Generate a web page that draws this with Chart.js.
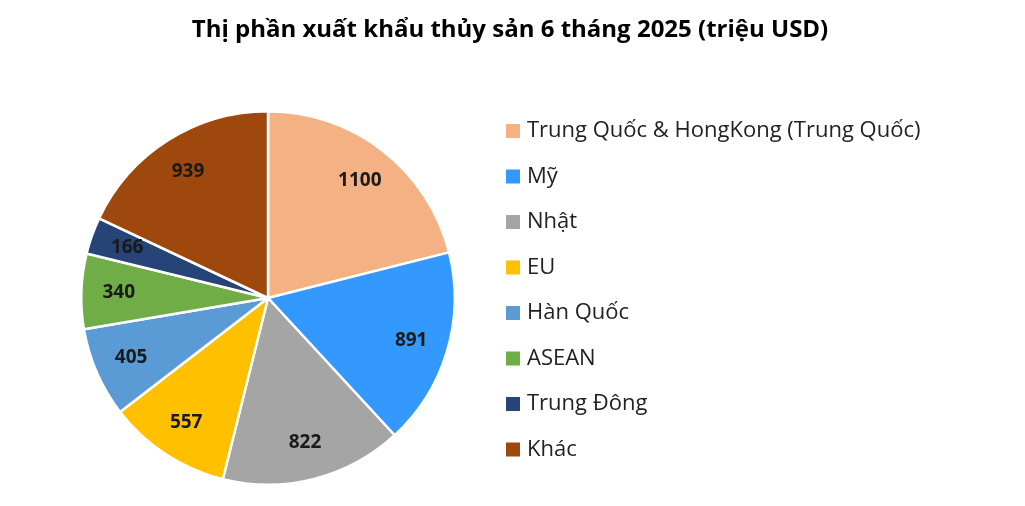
<!DOCTYPE html>
<html>
<head>
<meta charset="utf-8">
<script src="https://cdn.jsdelivr.net/npm/chart.js@4"></script>
<style>
  body { margin: 0; background: #fff; }
  #wrap { width: 1025px; height: 506px; position: relative; }
</style>
</head>
<body>
<div id="wrap"><canvas id="pie"></canvas></div>
<script>
const title = "Thị phần xuất khẩu thủy sản 6 tháng 2025 (triệu USD)";
const markets = ["Trung Quốc & HongKong (Trung Quốc)", "Mỹ", "Nhật", "EU", "Hàn Quốc", "ASEAN", "Trung Đông", "Khác"];
const values = [1100, 891, 822, 557, 405, 340, 166, 939];
const colors = ["#F4B183", "#3399FF", "#A5A5A5", "#FFC000", "#5B9BD5", "#70AD47", "#264478", "#9E480E"];

const font = "'Open Sans', 'Noto Sans', sans-serif";

// title, slice values and legend are painted here
const decor = {
  id: "decor",
  afterDraw(chart) {
    const ctx = chart.ctx;
    ctx.save();
    ctx.fillStyle = "#000";
    ctx.textAlign = "center";
    ctx.textBaseline = "middle";
    ctx.font = "bold 24px " + font;
    ctx.fillText(title, 510, 30);

    const meta = chart.getDatasetMeta(0);
    ctx.font = "bold 19px " + font;
    ctx.fillStyle = "#1a1a1a";
    meta.data.forEach((arc, i) => {
      const mid = (arc.startAngle + arc.endAngle) / 2;
      const r = arc.outerRadius * 0.8;
      ctx.fillText(values[i], arc.x + Math.cos(mid) * r, arc.y + Math.sin(mid) * r);
    });

    ctx.textAlign = "left";
    ctx.font = "22px " + font;
    markets.forEach((m, i) => {
      const y = 131 + i * 45.5;
      ctx.fillStyle = colors[i];
      ctx.fillRect(506, y - 7, 14, 14);
      ctx.fillStyle = "#222";
      ctx.fillText(m, 527, y);
    });
    ctx.restore();
  }
};

new Chart(document.getElementById("pie"), {
  type: "pie",
  data: {
    labels: markets,
    datasets: [{
      data: values,
      backgroundColor: colors,
      borderColor: "#fff",
      borderWidth: 2.5
    }]
  },
  options: {
    responsive: true,
    maintainAspectRatio: false,
    animation: false,
    layout: { padding: { left: 80, top: 110, right: 569, bottom: 20 } },
    plugins: {
      legend: { display: false },
      tooltip: { enabled: false }
    }
  },
  plugins: [decor]
});
</script>
</body>
</html>
